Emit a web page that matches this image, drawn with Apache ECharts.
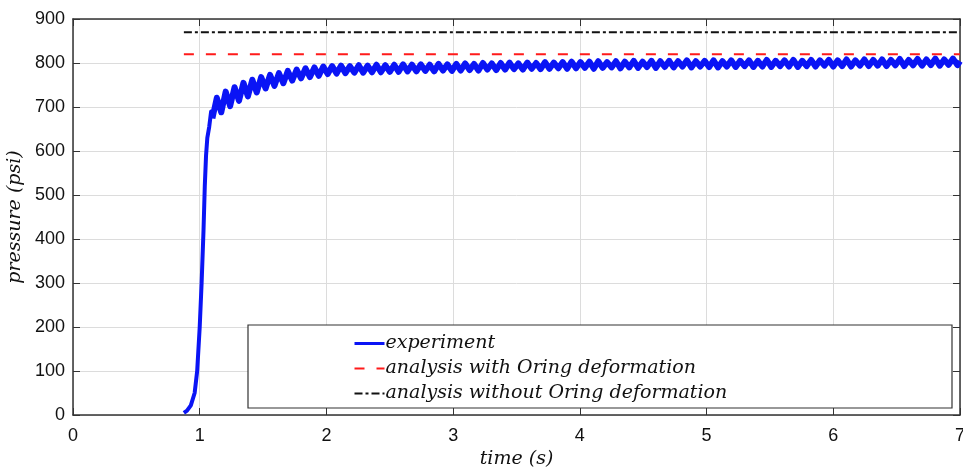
<!DOCTYPE html>
<html><head><meta charset="utf-8">
<script src="https://cdn.jsdelivr.net/npm/echarts@6/dist/echarts.min.js"></script>
<style>html,body{margin:0;padding:0;background:#fff}#c{width:963px;height:467px}</style>
</head><body><div id="c"></div>
<script>
const xTicks = [0, 1, 2, 3, 4, 5, 6, 7];
const yTicks = [0, 100, 200, 300, 400, 500, 600, 700, 800, 900];
const seriesNames = ['experiment', 'analysis with Oring deformation', 'analysis without Oring deformation'];

const riseTime = [0.875, 0.9, 0.93, 0.96, 0.98, 1.0, 1.015, 1.03, 1.04, 1.05, 1.06, 1.075, 1.09, 1.10];
const risePressure = [5, 10, 22, 50, 100, 200, 300, 420, 520, 590, 630, 655, 690, 674];

const expTime = [1.100,1.135,1.170,1.205,1.240,1.275,1.310,1.345,1.380,1.415,1.450,1.485,1.520,1.555,1.590,1.625,1.660,1.695,1.730,1.765,1.800,1.835,1.870,1.905,1.940,1.975,2.010,2.045,2.080,2.115,2.150,2.185,2.220,2.255,2.290,2.325,2.360,2.395,2.430,2.465,2.500,2.535,2.570,2.605,2.640,2.675,2.710,2.745,2.780,2.815,2.850,2.885,2.920,2.955,2.990,3.025,3.060,3.095,3.130,3.165,3.200,3.235,3.270,3.305,3.340,3.375,3.410,3.445,3.480,3.515,3.550,3.585,3.620,3.655,3.690,3.725,3.760,3.795,3.830,3.865,3.900,3.935,3.970,4.005,4.040,4.075,4.110,4.145,4.180,4.215,4.250,4.285,4.320,4.355,4.390,4.425,4.460,4.495,4.530,4.565,4.600,4.635,4.670,4.705,4.740,4.775,4.810,4.845,4.880,4.915,4.950,4.985,5.020,5.055,5.090,5.125,5.160,5.195,5.230,5.265,5.300,5.335,5.370,5.405,5.440,5.475,5.510,5.545,5.580,5.615,5.650,5.685,5.720,5.755,5.790,5.825,5.860,5.895,5.930,5.965,6.000,6.035,6.070,6.105,6.140,6.175,6.210,6.245,6.280,6.315,6.350,6.385,6.420,6.455,6.490,6.525,6.560,6.595,6.630,6.665,6.700,6.735,6.770,6.805,6.840,6.875,6.910,6.945,6.980,7.000];
const expPressure = [674,721,688,735,702,745,714,755,724,762,733,768,742,773,748,777,754,782,760,785,765,788,768,790,771,792,775,793,776,794,777,793,778,795,778,794,779,796,779,795,780,796,780,797,781,796,781,797,782,796,781,798,783,797,782,798,783,799,784,798,783,800,785,799,784,800,785,801,786,799,785,801,787,800,786,802,787,801,788,802,787,803,788,802,789,803,787,804,789,802,790,804,788,803,790,805,789,803,791,805,789,804,791,805,790,804,792,806,790,804,792,805,791,806,790,804,792,806,791,805,793,806,791,805,792,807,791,805,793,806,792,807,791,805,793,807,792,806,794,807,792,806,793,808,792,806,794,808,793,807,794,808,793,807,795,809,793,807,795,809,794,808,795,810,794,808,796,810,795,804];

const withOringTime = [0.875, 7];
const withOringPressure = [820, 820];
const withoutOringTime = [0.875, 7];
const withoutOringPressure = [870, 870];

function pairs(t, v) { return t.map((x, i) => [x, v[i]]); }

const chart = echarts.init(document.getElementById('c'), null, {renderer: 'canvas'});
const axisLineStyle = {color: '#333', width: 1.5};
const labelFont = {color: '#111', fontSize: 18, fontFamily: 'Liberation Sans, Arial, sans-serif'};
const mathFont = 'DejaVu Serif';
const blue = '#0a14f5';

chart.setOption({
  animation: false,
  backgroundColor: '#fff',
  grid: {left: 73, right: 3, top: 19, bottom: 52, containLabel: false, outerBoundsMode: 'none'},
  xAxis: [{
    type: 'value', min: 0, max: 7, interval: 1,
    name: 'time (s)', nameLocation: 'middle', nameGap: 35,
    nameTextStyle: {fontFamily: mathFont, fontStyle: 'italic', fontSize: 19, color: '#111'},
    axisLine: {show: true, onZero: false, lineStyle: axisLineStyle},
    axisTick: {show: true, inside: true, length: 7, lineStyle: {color: '#333'}},
    axisLabel: Object.assign({margin: 12}, labelFont),
    splitLine: {show: true, lineStyle: {color: '#dcdcdc', width: 1}}
  }, {
    type: 'value', min: 0, max: 7, interval: 1, position: 'top',
    axisLine: {show: true, onZero: false, lineStyle: axisLineStyle},
    axisTick: {show: true, inside: true, length: 7, lineStyle: {color: '#333'}},
    axisLabel: {show: false}, splitLine: {show: false}
  }],
  yAxis: [{
    type: 'value', min: 0, max: 900, interval: 100,
    name: 'pressure (psi)', nameLocation: 'middle', nameGap: 42, nameRotate: 90,
    nameTextStyle: {fontFamily: mathFont, fontStyle: 'italic', fontSize: 19, color: '#111'},
    axisLine: {show: true, onZero: false, lineStyle: axisLineStyle},
    axisTick: {show: true, inside: true, length: 7, lineStyle: {color: '#333'}},
    axisLabel: Object.assign({margin: 8}, labelFont),
    splitLine: {show: true, lineStyle: {color: '#dcdcdc', width: 1}}
  }, {
    type: 'value', min: 0, max: 900, interval: 100, position: 'right',
    axisLine: {show: true, onZero: false, lineStyle: axisLineStyle},
    axisTick: {show: true, inside: true, length: 7, lineStyle: {color: '#333'}},
    axisLabel: {show: false}, splitLine: {show: false}
  }],
  graphic: [{
    type: 'rect', z: 3,
    shape: {x: 248, y: 325, width: 704, height: 83},
    style: {fill: '#fff', stroke: '#333', lineWidth: 1.2}
  }],
  legend: {
    orient: 'vertical', left: 348, top: 329, z: 10,
    itemWidth: 30, itemHeight: 12, itemGap: 6,
    itemStyle: {opacity: 0},
    textStyle: {fontFamily: mathFont, fontStyle: 'italic', fontSize: 19, color: '#111', padding: [0,0,0,-4]},
    data: [
      {name: seriesNames[0], lineStyle: {width: 3}},
      {name: seriesNames[1]},
      {name: seriesNames[2]}
    ]
  },
  series: [{
    name: seriesNames[0], type: 'line', data: pairs(riseTime, risePressure), showSymbol: false, symbol: 'none',
    lineStyle: {color: blue, width: 4, join: 'round'}, itemStyle: {color: blue}, z: 3
  }, {
    name: seriesNames[0], type: 'line', data: pairs(expTime, expPressure), showSymbol: false, symbol: 'none',
    lineStyle: {color: blue, width: 6, join: 'round'}, itemStyle: {color: blue}, z: 3
  }, {
    name: seriesNames[1], type: 'line', data: pairs(withOringTime, withOringPressure), showSymbol: false, symbol: 'none',
    lineStyle: {color: '#ff1a1a', width: 2, type: [10, 12]}, itemStyle: {color: '#ff1a1a'}, z: 3
  }, {
    name: seriesNames[2], type: 'line', data: pairs(withoutOringTime, withoutOringPressure), showSymbol: false, symbol: 'none',
    lineStyle: {color: '#111', width: 2, type: [8, 3, 3, 3]}, itemStyle: {color: '#111'}, z: 3
  }]
});
</script></body></html>
